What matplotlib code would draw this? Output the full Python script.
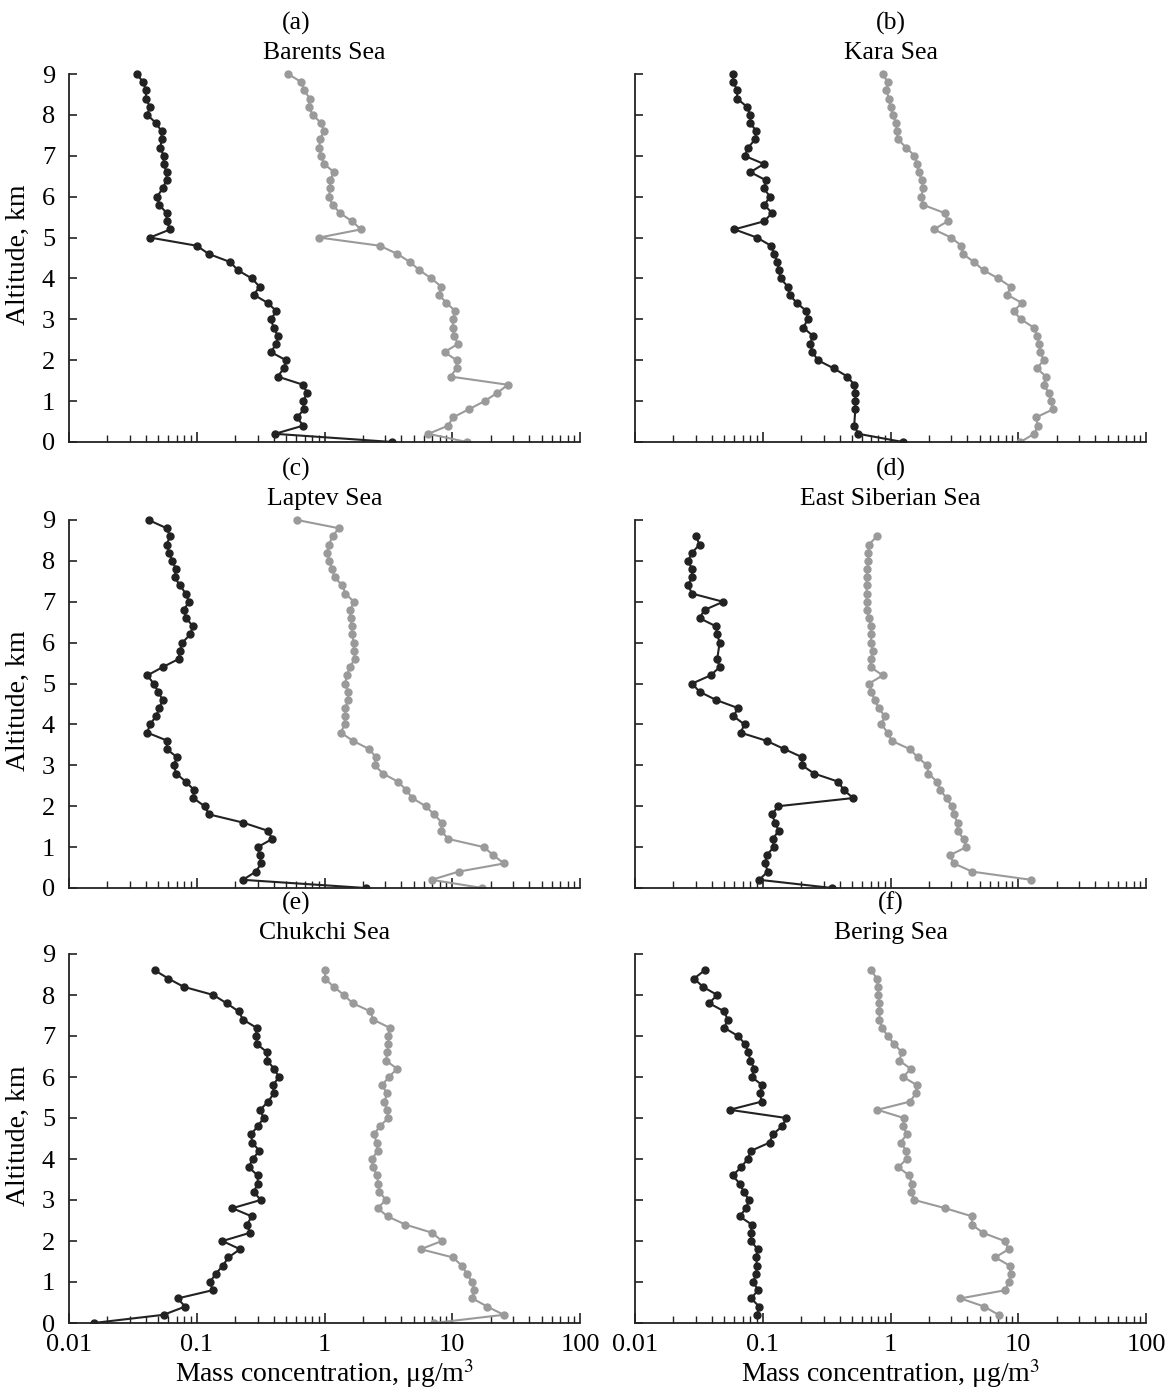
import matplotlib
matplotlib.use("Agg")
import matplotlib.pyplot as plt
from matplotlib.ticker import LogLocator, NullFormatter

plt.rcParams['font.family'] = ['Liberation Serif', 'DejaVu Serif']
plt.rcParams['mathtext.fontset'] = 'stix'

# altitude grid, km (0.2 km steps)
ALT_FULL = [9.0, 8.8, 8.6, 8.4, 8.2, 8.0, 7.8, 7.6, 7.4, 7.2, 7.0, 6.8, 6.6, 6.4, 6.2,
            6.0, 5.8, 5.6, 5.4, 5.2, 5.0, 4.8, 4.6, 4.4, 4.2, 4.0, 3.8, 3.6, 3.4, 3.2,
            3.0, 2.8, 2.6, 2.4, 2.2, 2.0, 1.8, 1.6, 1.4, 1.2, 1.0, 0.8, 0.6, 0.4, 0.2, 0.0]
ALT_86_00 = ALT_FULL[2:]
ALT_86_02 = ALT_FULL[2:-1]
ALT_KARA_BLACK = [9.0, 8.8, 8.6, 8.4, 8.2, 8.0, 7.8, 7.6, 7.4, 7.2, 7.0, 6.8, 6.6, 6.4, 6.2,
                  6.0, 5.8, 5.6, 5.4, 5.2, 5.0, 4.8, 4.6, 4.4, 4.2, 4.0, 3.8, 3.6, 3.4, 3.2,
                  3.0, 2.8, 2.6, 2.4, 2.2, 2.0, 1.8, 1.6, 1.4, 1.2, 1.0, 0.8, 0.4, 0.2, 0.0]
ALT_ES_BLACK = [8.6, 8.4, 8.2, 8.0, 7.8, 7.6, 7.4, 7.2, 7.0, 6.8, 6.6, 6.4, 6.2, 6.0,
                5.6, 5.4, 5.2, 5.0, 4.8, 4.6, 4.4, 4.2, 4.0, 3.8, 3.6, 3.4, 3.2,
                3.0, 2.8, 2.6, 2.4, 2.2, 2.0, 1.8, 1.6, 1.4, 1.2, 1.0, 0.8, 0.6, 0.4, 0.2, 0.0]

# mass concentration, ug/m3 (black = dark series, gray = light series)
barents_black = [0.034, 0.038, 0.040, 0.040, 0.043, 0.041, 0.048, 0.053, 0.053, 0.052,
                 0.055, 0.055, 0.058, 0.058, 0.054, 0.049, 0.051, 0.058, 0.058, 0.062,
                 0.043, 0.10, 0.124, 0.183, 0.21, 0.27, 0.31, 0.28, 0.36, 0.42,
                 0.38, 0.40, 0.43, 0.42, 0.38, 0.50, 0.48, 0.43, 0.68, 0.73,
                 0.68, 0.69, 0.61, 0.68, 0.41, 3.4]
barents_gray = [0.52, 0.66, 0.69, 0.77, 0.75, 0.81, 0.94, 0.99, 0.92, 0.91,
                0.94, 0.99, 1.19, 1.10, 1.11, 1.08, 1.16, 1.32, 1.64, 1.93,
                0.91, 2.71, 3.71, 4.68, 5.54, 6.86, 8.2, 7.9, 9.0, 10.6,
                10.1, 10.1, 10.3, 11.1, 8.7, 10.8, 10.8, 9.7, 27.2, 22.5,
                17.9, 13.5, 10.1, 9.3, 6.5, 13.0]
kara_black = [0.058, 0.059, 0.063, 0.063, 0.075, 0.080, 0.080, 0.089, 0.087, 0.077,
              0.072, 0.102, 0.080, 0.106, 0.102, 0.114, 0.103, 0.118, 0.103, 0.060,
              0.090, 0.116, 0.123, 0.130, 0.134, 0.138, 0.157, 0.162, 0.185, 0.22,
              0.226, 0.207, 0.246, 0.235, 0.245, 0.27, 0.36, 0.46, 0.52, 0.53,
              0.53, 0.53, 0.52, 0.56, 1.25]
kara_gray = [0.87, 0.95, 0.93, 0.97, 1.00, 1.04, 1.11, 1.12, 1.14, 1.33,
             1.54, 1.62, 1.66, 1.76, 1.80, 1.74, 1.80, 2.65, 2.81, 2.18,
             2.98, 3.59, 3.68, 4.51, 5.35, 6.98, 8.7, 8.2, 10.7, 9.2,
             10.5, 13.2, 14.1, 14.5, 14.9, 15.8, 14.0, 16.5, 15.8, 17.4,
             17.9, 18.8, 13.7, 14.3, 13.3, 10.4]
laptev_black = [0.042, 0.058, 0.062, 0.058, 0.061, 0.064, 0.069, 0.067, 0.074, 0.082,
                0.087, 0.079, 0.083, 0.093, 0.089, 0.077, 0.074, 0.072, 0.054, 0.041,
                0.046, 0.050, 0.054, 0.051, 0.048, 0.043, 0.041, 0.059, 0.058, 0.070,
                0.066, 0.069, 0.082, 0.095, 0.094, 0.115, 0.125, 0.23, 0.36, 0.39,
                0.30, 0.31, 0.32, 0.29, 0.23, 2.1]
laptev_gray = [0.61, 1.29, 1.16, 1.08, 1.05, 1.09, 1.14, 1.20, 1.38, 1.46,
               1.70, 1.59, 1.60, 1.64, 1.65, 1.69, 1.70, 1.73, 1.57, 1.50,
               1.45, 1.54, 1.52, 1.46, 1.44, 1.44, 1.34, 1.67, 2.23, 2.53,
               2.47, 2.87, 3.75, 4.36, 4.86, 6.2, 7.2, 8.3, 8.2, 9.3,
               17.7, 21.0, 25.4, 11.2, 6.9, 17.2]
es_black = [0.030, 0.032, 0.028, 0.026, 0.028, 0.028, 0.026, 0.028, 0.049, 0.035,
            0.032, 0.043, 0.044, 0.046, 0.044, 0.046, 0.039, 0.028, 0.032, 0.043,
            0.064, 0.059, 0.072, 0.067, 0.107, 0.147, 0.203, 0.203, 0.252, 0.39,
            0.43, 0.51, 0.132, 0.118, 0.125, 0.133, 0.120, 0.122, 0.107, 0.105,
            0.109, 0.094, 0.35]
es_gray = [0.78, 0.68, 0.67, 0.67, 0.66, 0.65, 0.65, 0.65, 0.65, 0.65,
           0.68, 0.70, 0.71, 0.70, 0.73, 0.70, 0.70, 0.87, 0.68, 0.71,
           0.75, 0.81, 0.90, 0.85, 0.95, 1.02, 1.41, 1.63, 1.93, 1.98,
           2.31, 2.44, 2.75, 3.01, 3.12, 3.35, 3.35, 3.73, 3.92, 2.90,
           3.14, 4.36, 12.6]
chukchi_black = [0.047, 0.060, 0.079, 0.135, 0.171, 0.213, 0.230, 0.294, 0.291, 0.297,
                 0.356, 0.356, 0.404, 0.44, 0.395, 0.40, 0.363, 0.313, 0.334, 0.300,
                 0.266, 0.272, 0.309, 0.274, 0.255, 0.300, 0.300, 0.28, 0.316, 0.190,
                 0.270, 0.247, 0.261, 0.159, 0.218, 0.177, 0.160, 0.141, 0.127, 0.133,
                 0.071, 0.081, 0.055, 0.0156]
chukchi_gray = [1.01, 1.01, 1.18, 1.42, 1.66, 2.29, 2.40, 3.24, 3.16, 3.16,
                3.10, 3.03, 3.70, 3.19, 2.82, 3.10, 2.94, 3.08, 3.16, 2.71,
                2.44, 2.56, 2.61, 2.35, 2.38, 2.58, 2.63, 2.69, 3.03, 2.60,
                3.12, 4.30, 6.98, 8.30, 5.66, 10.1, 11.9, 13.0, 14.3, 14.9,
                14.4, 18.8, 25.3, 7.2]
bering_black = [0.035, 0.029, 0.034, 0.044, 0.038, 0.050, 0.053, 0.050, 0.064, 0.073,
                0.077, 0.080, 0.086, 0.082, 0.099, 0.095, 0.098, 0.055, 0.153, 0.142,
                0.120, 0.113, 0.081, 0.076, 0.068, 0.058, 0.066, 0.071, 0.078, 0.074,
                0.066, 0.082, 0.081, 0.081, 0.091, 0.089, 0.090, 0.089, 0.084, 0.092,
                0.081, 0.094, 0.090]
bering_gray = [0.71, 0.78, 0.80, 0.80, 0.82, 0.82, 0.82, 0.86, 0.95, 1.07,
               1.23, 1.17, 1.44, 1.26, 1.61, 1.58, 1.42, 0.79, 1.27, 1.26,
               1.34, 1.20, 1.33, 1.34, 1.15, 1.40, 1.47, 1.44, 1.54, 2.68,
               4.36, 4.33, 5.29, 7.81, 8.40, 6.61, 8.55, 8.77, 8.40, 7.91,
               3.53, 5.42, 7.01]

letters = ['(a)', '(b)', '(c)', '(d)', '(e)', '(f)']
seas = ['Barents Sea', 'Kara Sea', 'Laptev Sea', 'East Siberian Sea', 'Chukchi Sea', 'Bering Sea']
black_series = [(ALT_FULL, barents_black), (ALT_KARA_BLACK, kara_black), (ALT_FULL, laptev_black),
                (ALT_ES_BLACK, es_black), (ALT_86_00, chukchi_black), (ALT_86_02, bering_black)]
gray_series = [(ALT_FULL, barents_gray), (ALT_FULL, kara_gray), (ALT_FULL, laptev_gray),
               (ALT_86_02, es_gray), (ALT_86_00, chukchi_gray), (ALT_86_02, bering_gray)]

xticks = [0.01, 0.1, 1, 10, 100]
xtick_labels = ['0.01', '0.1', '1', '10', '100']

W, H = 1169, 1391
fig = plt.figure(figsize=(W / 100, H / 100), dpi=100)

col_left = [69, 635]          # pixel x of 0.01
col_width = 511               # pixels for 4 decades
row_top9 = [74, 520, 954]     # pixel y of altitude 9
row_zero = [442, 888, 1323]   # pixel y of altitude 0
letter_dx = [-28, 0]          # panel letters sit a bit left in the left column
ytop = 9.15

for i in range(6):
    r, c = divmod(i, 2)
    px_km = (row_zero[r] - row_top9[r]) / 9.0
    h_px = px_km * ytop
    ax = fig.add_axes([col_left[c] / W, (H - row_zero[r]) / H, col_width / W, h_px / H])

    alt_b, val_b = black_series[i]
    alt_g, val_g = gray_series[i]
    ax.plot(val_g, alt_g, '-o', color='#9a9a9a', lw=1.5, ms=5.0, mec='#9a9a9a', zorder=2)
    ax.plot(val_b, alt_b, '-o', color='#222222', lw=1.5, ms=5.0, mec='#222222', zorder=3)

    ax.set_xscale('log')
    ax.set_xlim(0.01, 100)
    ax.set_ylim(0, ytop)
    ax.spines['top'].set_visible(False)
    ax.spines['right'].set_visible(False)
    ax.spines['left'].set_bounds(0, 9)
    for s in ['left', 'bottom']:
        ax.spines[s].set_linewidth(1.3)
        ax.spines[s].set_color('#222222')

    ax.set_yticks(range(10))
    ax.set_xticks(xticks)
    ax.xaxis.set_minor_locator(LogLocator(base=10, subs=range(2, 10)))
    ax.xaxis.set_minor_formatter(NullFormatter())
    ax.tick_params(axis='y', which='major', direction='in', length=6, width=1.2,
                   color='#222222', labelsize=19, pad=10)
    ax.tick_params(axis='x', which='major', direction='in', length=7, width=1.2,
                   color='#222222', labelsize=19, pad=8)
    ax.tick_params(axis='x', which='minor', direction='in', length=5, width=1.0, color='#222222')

    if r == 2:
        ax.set_xticklabels(xtick_labels)
        ax.set_xlabel('Mass concentration, μg/m$^3$', fontsize=20, labelpad=1)
    else:
        ax.set_xticklabels([])
    if c == 0:
        ax.set_ylabel('Altitude, km', fontsize=20, labelpad=8)
    else:
        ax.set_yticklabels([])

    ax.annotate(seas[i], xy=(0.5, 9), xycoords=('axes fraction', 'data'),
                xytext=(0, 21), textcoords='offset pixels', ha='center', va='center', fontsize=18.5)
    ax.annotate(letters[i], xy=(0.5, 9), xycoords=('axes fraction', 'data'),
                xytext=(letter_dx[c], 51), textcoords='offset pixels', ha='center', va='center',
                fontsize=18.5)

fig.savefig('out.png', dpi=100)
